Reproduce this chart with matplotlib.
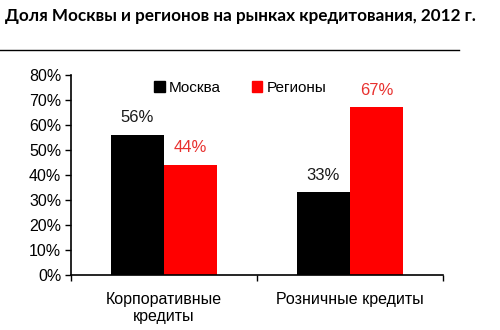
import matplotlib
matplotlib.use("Agg")
import matplotlib.pyplot as plt
from matplotlib.lines import Line2D
from matplotlib.patches import Patch

categories = ["Корпоративные\nкредиты", "Розничные кредиты"]
series_names = ["Москва", "Регионы"]
moscow = [56, 33]
regions = [44, 67]
yticks = [0, 10, 20, 30, 40, 50, 60, 70, 80]
title = "Доля Москвы и регионов на рынках кредитования, 2012 г."

black = "#000000"
red = "#ff0000"
label_red = "#e8312f"

plt.rcParams["font.family"] = ["Liberation Sans", "DejaVu Sans"]

fig = plt.figure(figsize=(5.0, 3.3), dpi=100)
fig.patch.set_facecolor("white")

# title and rule under it
fig.text(0.01, 0.953, title, fontsize=12.3, fontweight="bold",
         family=["Lato", "DejaVu Sans"], ha="left", va="center")
fig.add_artist(Line2D([0.0, 0.918], [0.848, 0.848], color="black", lw=1.0))

ax = fig.add_axes([0.142, 0.167, 0.744, 0.606])
x = range(len(categories))
w = 0.285
for i in x:
    ax.bar(i - w / 2, moscow[i], width=w, color=black, zorder=2)
    ax.bar(i + w / 2, regions[i], width=w, color=red, zorder=2)
    ax.annotate(f"{moscow[i]}%", (i - w / 2, moscow[i]), xytext=(0, 7),
                textcoords="offset points", ha="center", va="bottom",
                fontsize=12, color="#1a1a1a")
    ax.annotate(f"{regions[i]}%", (i + w / 2, regions[i]), xytext=(0, 7),
                textcoords="offset points", ha="center", va="bottom",
                fontsize=12, color=label_red)

ax.set_xlim(-0.5, 1.5)
ax.set_ylim(0, 80)
ax.set_yticks(yticks)
ax.set_yticklabels([f"{v}%" for v in yticks], fontsize=11.5)
ax.set_xticks([-0.5, 0.5, 1.5])
ax.set_xticklabels([])
ax.set_xticks(list(x), minor=True)
ax.set_xticklabels(categories, minor=True, fontsize=11.5)
ax.tick_params(axis="x", which="minor", length=0, pad=12)
ax.tick_params(axis="x", which="major", length=4, direction="out", width=1)
ax.tick_params(axis="y", length=4, direction="out", width=1, pad=3)
for s in ("top", "right"):
    ax.spines[s].set_visible(False)
for s in ("left", "bottom"):
    ax.spines[s].set_linewidth(1.2)

handles = [Patch(color=black), Patch(color=red)]
ax.legend(handles, series_names, loc="upper center", bbox_to_anchor=(0.455, 1.04),
          ncol=2, frameon=False, fontsize=11, handlelength=0.7,
          handleheight=0.7, handletextpad=0.3, columnspacing=2.0)

fig.savefig("out.png", dpi=100)
